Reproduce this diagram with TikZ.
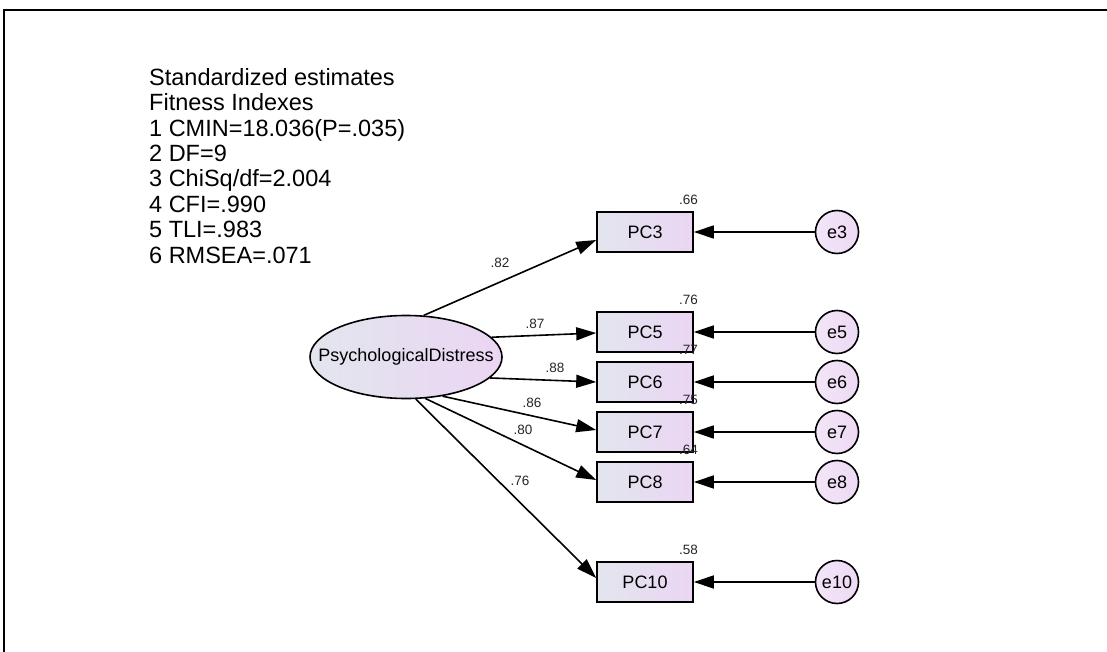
\documentclass[tikz,border=0pt]{standalone}
\usepackage{fontspec}
\setmainfont{Liberation Sans}
\usetikzlibrary{arrows.meta,shapes.geometric}
\definecolor{fillL}{RGB}{226,230,238}
\definecolor{fillR}{RGB}{235,213,243}
\begin{document}
\begin{tikzpicture}[x=1pt,y=-1pt,
  obs/.style={draw, line width=1.6pt, minimum width=96pt, minimum height=40pt, inner sep=0pt,
    left color=fillL, right color=fillR, font=\fontsize{18}{20}\selectfont},
  err/.style={circle, draw, line width=1.6pt, minimum size=43pt, inner sep=0pt,
    left color=fillR!60!white, right color=fillR!90!white, font=\fontsize{18}{20}\selectfont},
  lat/.style={ellipse, draw, line width=1.6pt, minimum width=192pt, minimum height=83pt, inner sep=0pt,
    left color=fillL, right color=fillR, font=\fontsize{18}{20}\selectfont},
  reg/.style={line width=1.6pt, -{Triangle[length=20pt,width=13pt]}},
  coef/.style={font=\fontsize{13.5}{15}\selectfont, inner sep=0pt, text=black!85},
]
\useasboundingbox (0,0) rectangle (1107,652);
\draw[line width=2.5pt] (4,652) -- (4,10) -- (1107,10);

\node[anchor=north west, align=left, inner sep=0pt, font=\fontsize{23.5}{25.4}\selectfont] (info) at (149,68)
  {Standardized estimates\\Fitness Indexes\\1 CMIN=18.036(P=.035)\\2 DF=9\\3 ChiSq/df=2.004\\4 CFI=.990\\5 TLI=.983\\6 RMSEA=.071};

\node[lat] (PD) at (406,357) {\makebox[0pt]{PsychologicalDistress}};

\node[obs] (PC3) at (645,232) {PC3};
\node[obs] (PC5) at (645,332) {PC5};
\node[obs] (PC6) at (645,382) {PC6};
\node[obs] (PC7) at (645,432) {PC7};
\node[obs] (PC8) at (645,482) {PC8};
\node[obs] (PC10) at (645,582) {PC10};

\node[err] (e3) at (837,232) {e3};
\node[err] (e5) at (837,332) {e5};
\node[err] (e6) at (837,382) {e6};
\node[err] (e7) at (837,432) {e7};
\node[err] (e8) at (837,482) {e8};
\node[err] (e10) at (837,582) {e10};

\foreach \n in {3,5,6,7,8,10} {\draw[reg] (e\n) -- (PC\n);}

\draw[reg] (PD.67) -- ([yshift=-8pt]PC3.west);
\draw[reg] (PD.13) -- ([yshift=-1pt]PC5.west);
\draw[reg] (PD.-14) -- (PC6.west);
\draw[reg] (PD.-47) -- ([yshift=2pt]PC7.west);
\draw[reg] (PD.-65) -- ([yshift=2pt]PC8.west);
\draw[reg] (PD.-77) -- ([yshift=4pt]PC10.west);

\node[coef] (c3) at (500,263) {.82};
\node[coef] (c5) at (535,324) {.87};
\node[coef] (c6) at (555,368) {.88};
\node[coef] (c7) at (532,403) {.86};
\node[coef] (c8) at (523,430) {.80};
\node[coef] (c10) at (520,481) {.76};

\node[coef, anchor=east] (r3) at (698,200) {.66};
\node[coef, anchor=east] (r5) at (698,300) {.76};
\node[coef, anchor=east] (r6) at (698,350) {.77};
\node[coef, anchor=east] (r7) at (698,400) {.75};
\node[coef, anchor=east] (r8) at (698,450) {.64};
\node[coef, anchor=east] (r10) at (698,550) {.58};
\end{tikzpicture}
\end{document}
